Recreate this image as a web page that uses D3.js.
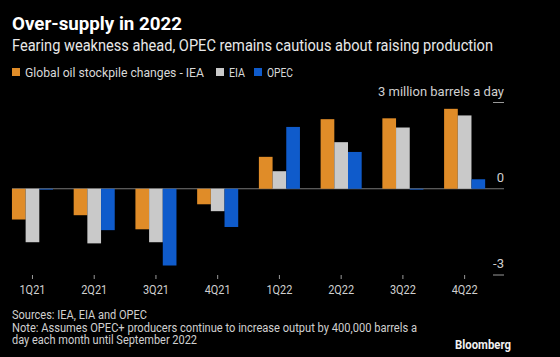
<!DOCTYPE html>
<html><head><meta charset="utf-8">
<script src="https://cdn.jsdelivr.net/npm/d3@7"></script>
<style>
html,body{margin:0;padding:0;background:#000;}
svg{display:block;}
text{font-family:"Roboto","Noto Sans",sans-serif;}
</style></head>
<body>
<svg id="chart" width="560" height="357"></svg>
<script>
const categories = ["1Q21","2Q21","3Q21","4Q21","1Q22","2Q22","3Q22","4Q22"];
const seriesNames = ["Global oil stockpile changes - IEA","EIA","OPEC"];
const iea  = [-1.07,-0.92,-1.41,-0.54,1.11,2.42,2.45,2.78];
const eia  = [-1.86,-1.90,-1.86,-0.78,0.61,1.62,2.13,2.55];
const opec = [-0.03,-1.44,-2.67,-1.33,2.15,1.28,-0.03,0.33];
const yTicks = [3,0,-3];
const yTickLabels = ["3 million barrels a day","0","-3"];
const colors = ["#E08C28","#C9C9C9","#0F5BCB"];

const svg = d3.select("#chart");
svg.append("rect").attr("width",560).attr("height",357).attr("fill","#000");

const x = d3.scaleBand().domain(categories).range([1.6,495.5]).paddingInner(0.335).paddingOuter(0.1675);
const xs = d3.scaleBand().domain(seriesNames).range([0,x.bandwidth()]);
const y = d3.scaleLinear().domain([-3,3]).range([275,102.5]);

const data = categories.map((c,i)=>({cat:c, vals:[iea[i],eia[i],opec[i]]}));

// zero line
svg.append("line").attr("x1",12).attr("x2",504).attr("y1",y(0)).attr("y2",y(0))
  .attr("stroke","#777").attr("stroke-width",1);

// bars
const g = svg.append("g");
data.forEach(d=>{
  d.vals.forEach((v,j)=>{
    g.append("rect")
     .attr("x", x(d.cat)+xs(seriesNames[j]))
     .attr("width", xs.bandwidth())
     .attr("y", y(Math.max(0,v)))
     .attr("height", Math.abs(y(v)-y(0)))
     .attr("fill", colors[j]);
  });
});

// y ticks and labels (right side)
const yLabelW = [126,null,null];
yTicks.forEach((t,i)=>{
  if(t!==0){
    svg.append("line").attr("x1",493).attr("x2",504).attr("y1",y(t)).attr("y2",y(t))
      .attr("stroke","#999").attr("stroke-width",1);
  }
  const tx = svg.append("text").attr("x",504).attr("y",y(t)-7).attr("text-anchor","end")
    .attr("fill","#d0d0d0").attr("font-size",13).text(yTickLabels[i]);
  if(yLabelW[i]) tx.attr("textLength",yLabelW[i]).attr("lengthAdjust","spacingAndGlyphs");
});

// x axis
const xAxis = d3.axisBottom(x).tickSize(4).tickPadding(6);
const xg = svg.append("g").attr("transform","translate(0,275)").call(xAxis);
xg.select(".domain").remove();
xg.selectAll(".tick line").attr("stroke","#999");
xg.selectAll(".tick text").attr("fill","#d0d0d0").attr("font-size",13)
  .attr("font-family","Roboto, sans-serif")
  .attr("textLength",26).attr("lengthAdjust","spacingAndGlyphs");

// title
svg.append("text").attr("x",12).attr("y",30).attr("fill","#fff").attr("font-weight","bold")
  .attr("font-size",18).attr("textLength",170).attr("lengthAdjust","spacingAndGlyphs")
  .text("Over-supply in 2022");
svg.append("text").attr("x",12).attr("y",51).attr("fill","#e8e8e8")
  .attr("font-size",16).attr("textLength",481).attr("lengthAdjust","spacingAndGlyphs")
  .text("Fearing weakness ahead, OPEC remains cautious about raising production");

// legend
const legendX = [12,216,254];
const legendW = [179,16,26];
seriesNames.forEach((n,i)=>{
  svg.append("rect").attr("x",legendX[i]).attr("y",68).attr("width",8).attr("height",8).attr("fill",colors[i]);
  svg.append("text").attr("x",legendX[i]+13).attr("y",76.5).attr("fill","#d8d8d8")
    .attr("font-size",13).attr("textLength",legendW[i]).attr("lengthAdjust","spacingAndGlyphs").text(n);
});

// footer
const notes = ["Sources: IEA, EIA and OPEC",
  "Note: Assumes OPEC+ producers continue to increase output by 400,000 barrels a",
  "day each month until September 2022"];
const noteW = [135,405,185];
notes.forEach((t,i)=>{
  svg.append("text").attr("x",12).attr("y",319+i*12.5).attr("fill","#d0d0d0")
    .attr("font-size",12).attr("textLength",noteW[i]).attr("lengthAdjust","spacingAndGlyphs").text(t);
});
svg.append("text").attr("x",511).attr("y",349).attr("text-anchor","end").attr("fill","#f0f0f0")
  .attr("font-weight","bold").attr("font-size",13).attr("textLength",56).attr("lengthAdjust","spacingAndGlyphs").text("Bloomberg");
</script>
</body></html>
